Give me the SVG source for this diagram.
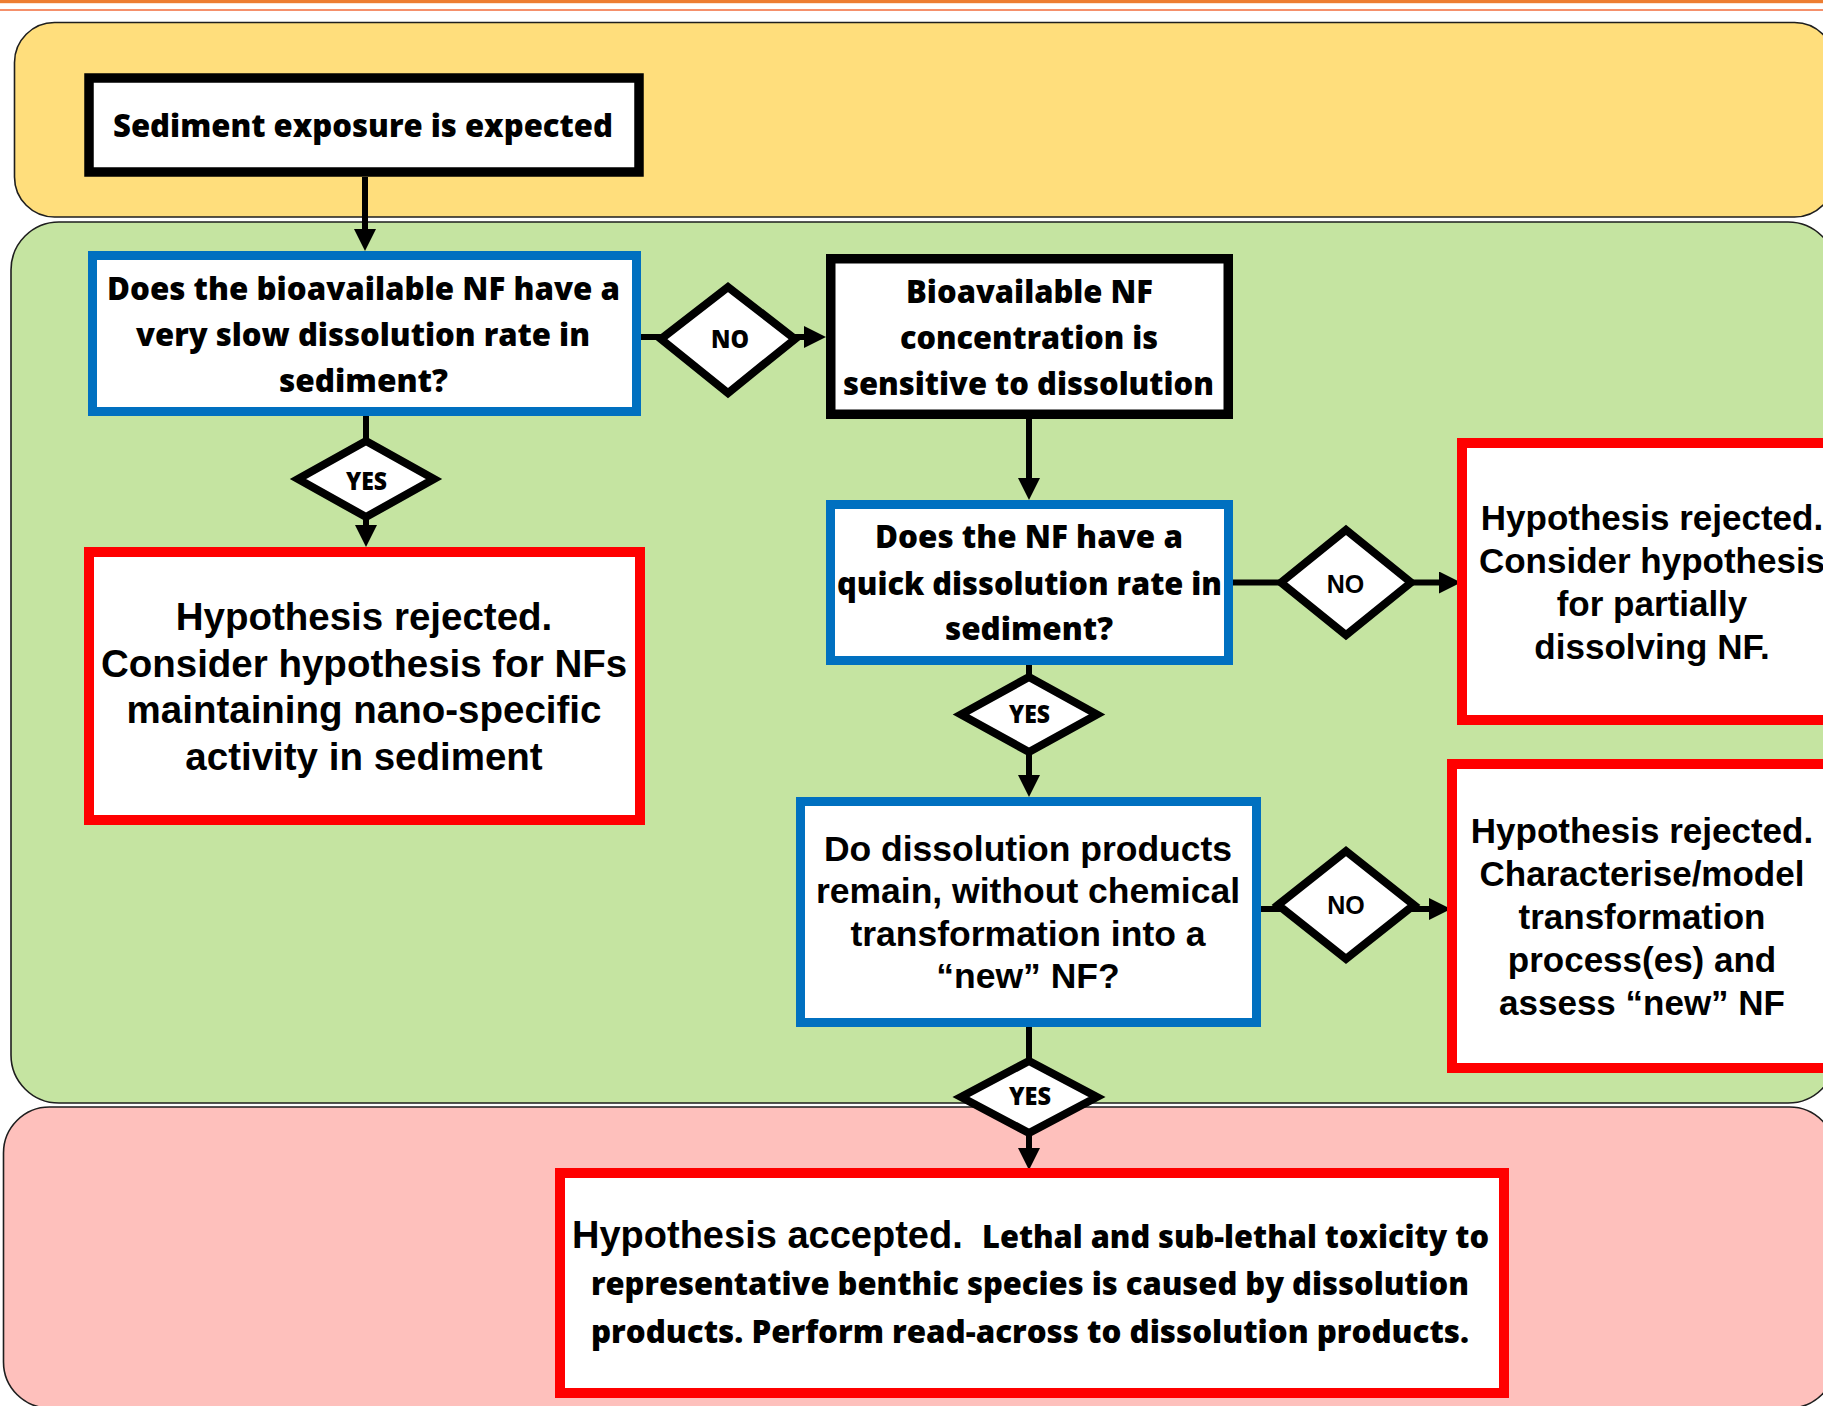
<svg xmlns="http://www.w3.org/2000/svg" width="1823" height="1406" viewBox="0 0 1823 1406">
<defs>
<style>
.panel{stroke:#1e1e1e;stroke-width:1.6}
.box{fill:#fff}
.blk{stroke:#000;stroke-width:9.5}
.blue{stroke:#0070C0;stroke-width:9}
.red{stroke:#FF0000;stroke-width:10}
.dia{fill:#fff;stroke:#000;stroke-width:8;stroke-linejoin:miter}
.cal{font-family:"Open Sans","Noto Sans",sans-serif;font-weight:800;font-size:31.5px;fill:#000;text-anchor:middle}
.yn{font-family:"Open Sans","Noto Sans",sans-serif;font-weight:800;font-size:25px;fill:#000;text-anchor:middle}
.ari{font-family:"Liberation Sans",Arial,sans-serif;font-weight:700;fill:#000;text-anchor:middle}
.conn line{stroke:#000;stroke-width:6}
</style>
<marker id="ah" markerUnits="userSpaceOnUse" markerWidth="22" markerHeight="22" refX="12" refY="11" orient="auto" viewBox="0 0 22 22">
<path d="M0,0 L22,11 L0,22 z" fill="#000"/>
</marker>
</defs>
<rect width="1823" height="1406" fill="#fff"/>
<!-- header lines -->
<rect x="0" y="0" width="1823" height="3.2" fill="#ED7D31"/>
<line x1="0" y1="10" x2="1823" y2="10" stroke="#F26B3A" stroke-width="1.6"/>
<!-- panels -->
<g id="panels">
<rect id="panel-yellow" class="panel" x="14.5" y="22.5" width="1820" height="194.5" rx="40" ry="40" fill="#FFDE7C"/>
<rect id="panel-green" class="panel" x="11" y="222" width="1825" height="881" rx="48" ry="48" fill="#C5E4A1"/>
<rect id="panel-pink" class="panel" x="3.5" y="1107" width="1832" height="301" rx="46" ry="46" fill="#FEC0BC"/>
</g>
<!-- connectors -->
<g id="connectors" class="conn">
<line x1="365" y1="177" x2="365" y2="241" marker-end="url(#ah)"/>
<line x1="366" y1="414" x2="366" y2="444"/>
<line x1="366" y1="512" x2="366" y2="537" marker-end="url(#ah)"/>
<line x1="639" y1="337" x2="664" y2="337"/>
<line x1="792" y1="337" x2="816" y2="337" marker-end="url(#ah)"/>
<line x1="1029" y1="417" x2="1029" y2="490" marker-end="url(#ah)"/>
<line x1="1029" y1="663" x2="1029" y2="679"/>
<line x1="1029" y1="750" x2="1029" y2="787" marker-end="url(#ah)"/>
<line x1="1231" y1="582.5" x2="1283" y2="582.5"/>
<line x1="1409" y1="582.5" x2="1451" y2="582.5" marker-end="url(#ah)"/>
<line x1="1259" y1="909" x2="1282" y2="909"/>
<line x1="1410" y1="909" x2="1441" y2="909" marker-end="url(#ah)"/>
<line x1="1029" y1="1020" x2="1029" y2="1063"/>
<line x1="1029" y1="1131" x2="1029" y2="1160" marker-end="url(#ah)"/>
</g>
<!-- nodes -->
<g id="n-start">
<rect class="box blk" x="89" y="78" width="550" height="94"/>
<text class="cal" x="363" y="137" textLength="500" lengthAdjust="spacingAndGlyphs">Sediment exposure is expected</text>
</g>
<g id="q-slow">
<rect class="box blue" x="92.5" y="255.5" width="544" height="156"/>
<text class="cal" x="363.5" y="300" textLength="513" lengthAdjust="spacingAndGlyphs">Does the bioavailable NF have a</text>
<text class="cal" x="363" y="346" textLength="454" lengthAdjust="spacingAndGlyphs">very slow dissolution rate in</text>
<text class="cal" x="363.5" y="392" textLength="169" lengthAdjust="spacingAndGlyphs">sediment?</text>
</g>
<g id="d-yes1">
<polygon class="dia" points="298,479 366,441 434,479 366,517"/>
<text class="yn" x="366.5" y="490" textLength="41" lengthAdjust="spacingAndGlyphs">YES</text>
</g>
<g id="r-nano">
<rect class="box red" x="89" y="552" width="551" height="268"/>
<text class="ari" x="364" y="630" font-size="38.5">Hypothesis rejected.</text>
<text class="ari" x="364" y="677" font-size="38.5">Consider hypothesis for NFs</text>
<text class="ari" x="364" y="723" font-size="38.5">maintaining nano-specific</text>
<text class="ari" x="364" y="770" font-size="38.5">activity in sediment</text>
</g>
<g id="d-no1">
<polygon class="dia" points="661,339 728,287 795,339 728,393"/>
<text class="yn" x="730" y="348" textLength="38" lengthAdjust="spacingAndGlyphs">NO</text>
</g>
<g id="n-sensitive">
<rect class="box blk" x="830.75" y="258.75" width="397.5" height="155.5"/>
<text class="cal" x="1029.5" y="303" textLength="247" lengthAdjust="spacingAndGlyphs">Bioavailable NF</text>
<text class="cal" x="1029" y="349" textLength="258" lengthAdjust="spacingAndGlyphs">concentration is</text>
<text class="cal" x="1028.5" y="395" textLength="371" lengthAdjust="spacingAndGlyphs">sensitive to dissolution</text>
</g>
<g id="q-quick">
<rect class="box blue" x="830.5" y="504.5" width="398" height="156"/>
<text class="cal" x="1029" y="548" textLength="308" lengthAdjust="spacingAndGlyphs">Does the NF have a</text>
<text class="cal" x="1029.5" y="595" textLength="385" lengthAdjust="spacingAndGlyphs">quick dissolution rate in</text>
<text class="cal" x="1029" y="640" textLength="168" lengthAdjust="spacingAndGlyphs">sediment?</text>
</g>
<g id="d-no2">
<polygon class="dia" points="1281,582.5 1346,530 1411,582.5 1346,635"/>
<text class="ari" x="1345.5" y="593" font-size="25">NO</text>
</g>
<g id="r-partial">
<rect class="box red" x="1462" y="443" width="390" height="277"/>
<text class="ari" x="1652" y="530" font-size="35">Hypothesis rejected.</text>
<text class="ari" x="1652" y="573" font-size="35">Consider hypothesis</text>
<text class="ari" x="1652" y="616" font-size="35">for partially</text>
<text class="ari" x="1652" y="659" font-size="35">dissolving NF.</text>
</g>
<g id="d-yes2">
<polygon class="dia" points="961,714.5 1029,677 1097,714.5 1029,752"/>
<text class="yn" x="1029.5" y="723" textLength="41" lengthAdjust="spacingAndGlyphs">YES</text>
</g>
<g id="q-products">
<rect class="box blue" x="800.5" y="801.5" width="456" height="221"/>
<text class="ari" x="1028" y="861" font-size="35.5">Do dissolution products</text>
<text class="ari" x="1028" y="903" font-size="35.5">remain, without chemical</text>
<text class="ari" x="1028" y="946" font-size="35.5">transformation into a</text>
<text class="ari" x="1028" y="988" font-size="35.5">“new” NF?</text>
</g>
<g id="d-no3">
<polygon class="dia" points="1278,905 1346,851 1414,905 1346,959"/>
<text class="ari" x="1346" y="914" font-size="25">NO</text>
</g>
<g id="r-transform">
<rect class="box red" x="1452" y="764" width="400" height="304"/>
<text class="ari" x="1642" y="843" font-size="35">Hypothesis rejected.</text>
<text class="ari" x="1642" y="886" font-size="35">Characterise/model</text>
<text class="ari" x="1642" y="929" font-size="35">transformation</text>
<text class="ari" x="1642" y="972" font-size="35">process(es) and</text>
<text class="ari" x="1642" y="1015" font-size="35">assess “new” NF</text>
</g>
<g id="d-yes3">
<polygon class="dia" points="961,1097 1029,1061 1097,1097 1029,1133"/>
<text class="yn" x="1030" y="1105" textLength="42" lengthAdjust="spacingAndGlyphs">YES</text>
</g>
<g id="r-accepted">
<rect class="box red" x="560" y="1173" width="944" height="220"/>
<text class="ari" x="572" y="1248" font-size="38" style="text-anchor:start">Hypothesis accepted.</text>
<text class="cal" x="982" y="1248" textLength="507" lengthAdjust="spacingAndGlyphs" style="text-anchor:start">Lethal and sub-lethal toxicity to</text>
<text class="cal" x="1030" y="1295" textLength="878" lengthAdjust="spacingAndGlyphs">representative benthic species is caused by dissolution</text>
<text class="cal" x="1030" y="1343" textLength="878" lengthAdjust="spacingAndGlyphs">products. Perform read-across to dissolution products.</text>
</g>
</svg>
